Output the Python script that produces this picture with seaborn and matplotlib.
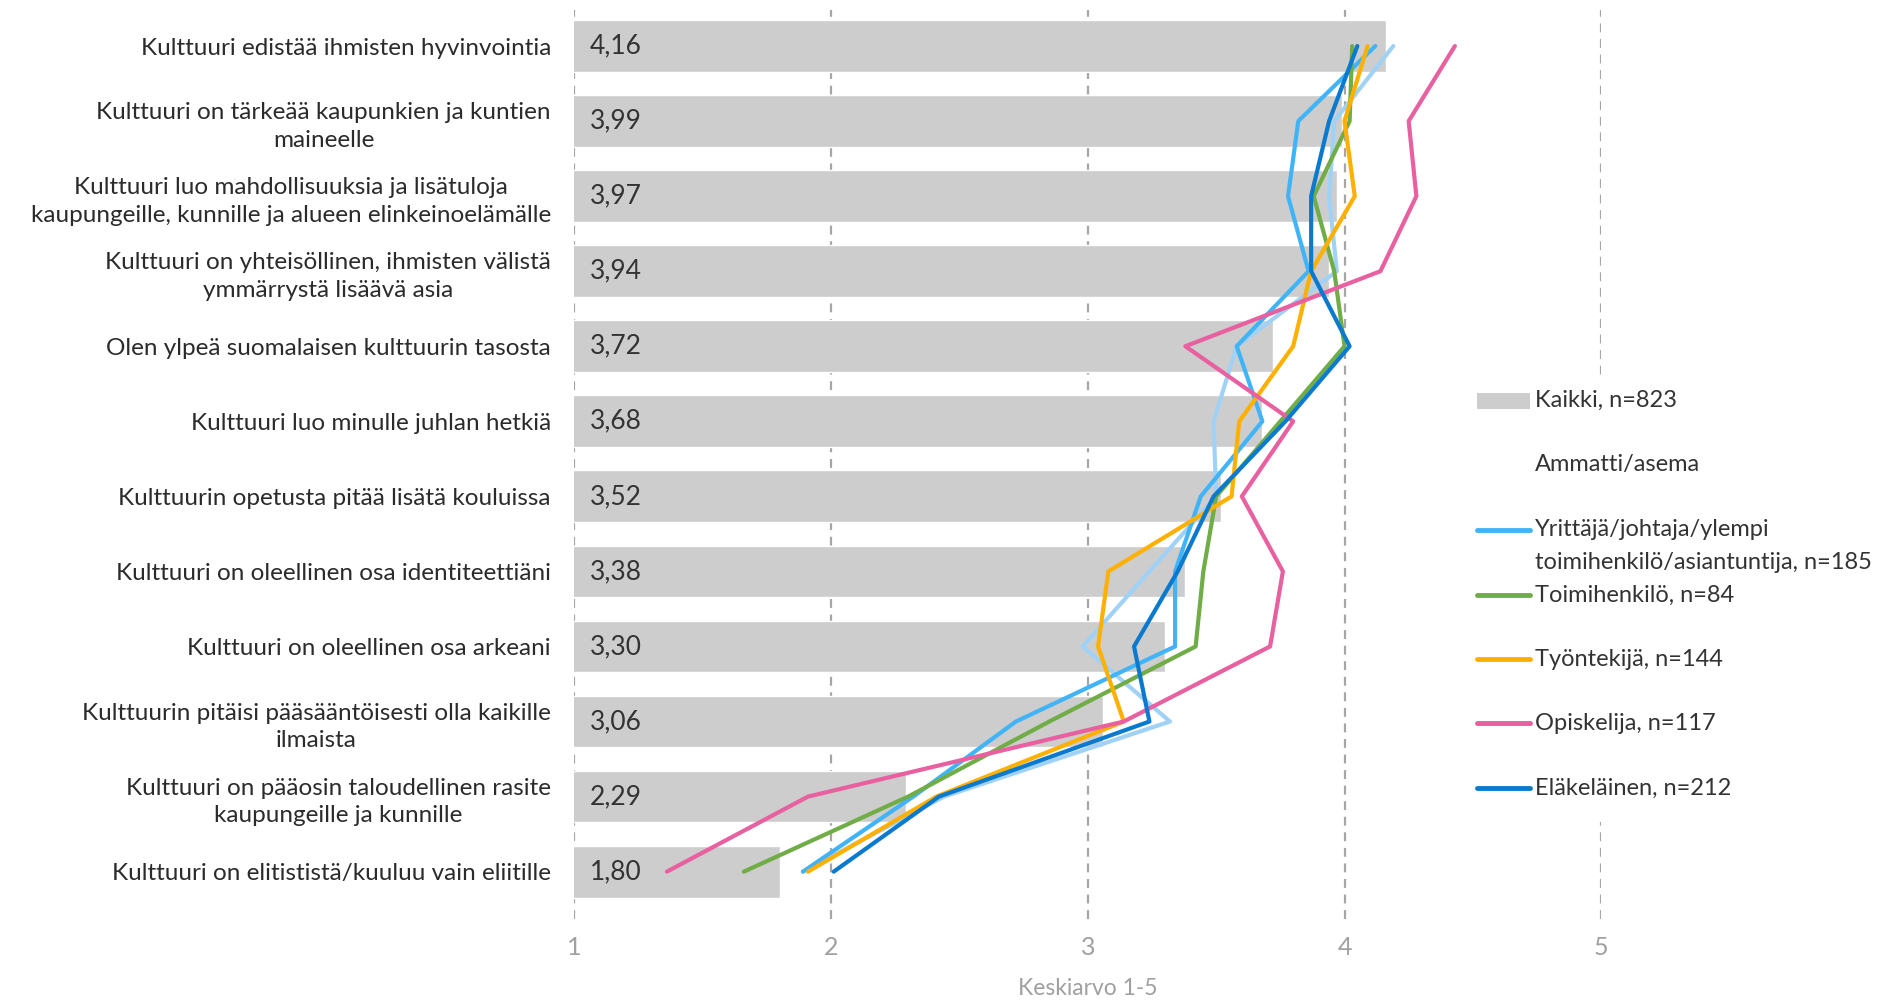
import matplotlib
matplotlib.use('Agg')
import matplotlib.pyplot as plt
from matplotlib.lines import Line2D
from matplotlib.patches import Rectangle
import seaborn as sns
import pandas as pd

# väittämät (ylhäältä alas)
categories = [
    'Kulttuuri edistää ihmisten hyvinvointia',
    'Kulttuuri on tärkeää kaupunkien ja kuntien\nmaineelle',
    'Kulttuuri luo mahdollisuuksia ja lisätuloja\nkaupungeille, kunnille ja alueen elinkeinoelämälle',
    'Kulttuuri on yhteisöllinen, ihmisten välistä\nymmärrystä lisäävä asia',
    'Olen ylpeä suomalaisen kulttuurin tasosta',
    'Kulttuuri luo minulle juhlan hetkiä',
    'Kulttuurin opetusta pitää lisätä kouluissa',
    'Kulttuuri on oleellinen osa identiteettiäni',
    'Kulttuuri on oleellinen osa arkeani',
    'Kulttuurin pitäisi pääsääntöisesti olla kaikille\nilmaista',
    'Kulttuuri on pääosin taloudellinen rasite\nkaupungeille ja kunnille',
    'Kulttuuri on elitististä/kuuluu vain eliitille',
]
positions = list(range(len(categories)))

kaikki = [4.16, 3.99, 3.97, 3.94, 3.72, 3.68, 3.52, 3.38, 3.30, 3.06, 2.29, 1.80]

yrittaja = [4.12, 3.82, 3.78, 3.86, 3.58, 3.68, 3.44, 3.34, 3.34, 2.72, 2.32, 1.89]
toimihenkilo = [4.03, 4.02, 3.88, 3.96, 4.00, 3.75, 3.50, 3.45, 3.42, 2.85, 2.30, 1.66]
tyontekija = [4.09, 4.00, 4.04, 3.87, 3.80, 3.59, 3.56, 3.08, 3.04, 3.14, 2.41, 1.91]
opiskelija = [4.43, 4.25, 4.28, 4.14, 3.38, 3.80, 3.60, 3.76, 3.71, 3.14, 1.91, 1.36]
elakelainen = [4.05, 3.94, 3.87, 3.87, 4.02, 3.77, 3.49, 3.35, 3.18, 3.24, 2.42, 2.01]
muu = [4.19, 3.96, 3.94, 3.97, 3.58, 3.49, 3.50, 3.24, 2.98, 3.32, 2.44, 1.89]

series_labels = [
    'Yrittäjä/johtaja/ylempi\ntoimihenkilö/asiantuntija, n=185',
    'Toimihenkilö, n=84',
    'Työntekijä, n=144',
    'Opiskelija, n=117',
    'Eläkeläinen, n=212',
]
series_values = [yrittaja, toimihenkilo, tyontekija, opiskelija, elakelainen]
series_colors = ['#41B4F7', '#70AD47', '#FFB000', '#E8609F', '#0A7ACF']

W, H = 1896, 1001

sns.set_theme(style='white')
plt.rcParams['font.family'] = ['Lato', 'DejaVu Sans']

fig = plt.figure(figsize=(W / 100, H / 100), dpi=100)
ax = fig.add_axes([0.303, 0.082, 0.5415, 0.908])

df_bars = pd.DataFrame({'pos': positions, 'value': kaikki})
sns.barplot(data=df_bars, x='value', y='pos', orient='h', color='#CDCDCD',
            saturation=1, width=0.69, ax=ax)

# vaalea sininen sarja ilman selitettä
sns.lineplot(x=muu, y=positions, sort=False, estimator=None, color='#A0D2F7',
             linewidth=3, ax=ax)
for vals, col in zip(series_values, series_colors):
    sns.lineplot(x=vals, y=positions, sort=False, estimator=None, color=col,
                 linewidth=3, ax=ax)

for pos, v in zip(positions, kaikki):
    ax.text(1.06, pos, f'{v:.2f}'.replace('.', ','), va='center', ha='left',
            fontsize=19, color='#333333')

ax.set_xlim(1, 5)
ax.set_ylim(11.63, -0.48)
ax.set_xticks([1, 2, 3, 4, 5])
ax.set_xticklabels(['1', '2', '3', '4', '5'], fontsize=18, color='#A0A0A0')
ax.set_yticks(positions)
ax.set_yticklabels(categories, fontsize=17.5, color='#2B2B2B',
                   multialignment='center', linespacing=1.4)
ax.tick_params(axis='both', length=0)
ax.tick_params(axis='y', pad=17)
ax.tick_params(axis='x', pad=12)
ax.set_xlabel('Keskiarvo 1-5', fontsize=16.5, color='#A0A0A0', labelpad=14)
ax.set_ylabel('')
ax.set_axisbelow(True)
ax.grid(axis='x', color='#A6A6A6', linestyle=(0, (4, 3)), linewidth=1.6)
ax.grid(axis='y', visible=False)
for s in ax.spines.values():
    s.set_visible(False)
if ax.get_legend() is not None:
    ax.get_legend().remove()

# selite käsin (Excel-tyyli)
def fx(px):
    return px / W

def fy(py):
    return 1 - py / H

fig.add_artist(Rectangle((fx(1470), fy(822)), fx(W) - fx(1470), fy(377) - fy(822),
                         transform=fig.transFigure, facecolor='white',
                         edgecolor='none', zorder=2))
fig.add_artist(Rectangle((fx(1477), fy(409)), fx(1530) - fx(1477), fy(393) - fy(409),
                         transform=fig.transFigure, facecolor='#CDCDCD',
                         edgecolor='none', zorder=3))
fig.text(fx(1535), fy(400), 'Kaikki, n=823', fontsize=17, color='#333333',
         va='center', ha='left', zorder=3)
fig.text(fx(1535), fy(464), 'Ammatti/asema', fontsize=17, color='#333333',
         va='center', ha='left', zorder=3)

legend_y = [530, 595, 659, 723, 788]
label_lines = [lab.split('\n') for lab in series_labels]
for ypx, lines, col in zip(legend_y, label_lines, series_colors):
    fig.add_artist(Line2D([fx(1477), fx(1530)], [fy(ypx), fy(ypx)],
                          transform=fig.transFigure, color=col, linewidth=3.5,
                          solid_capstyle='round', zorder=3))
    for k, line in enumerate(lines):
        fig.text(fx(1535), fy(ypx + 32.5 * k), line, fontsize=17,
                 color='#333333', va='center', ha='left', zorder=3)

fig.savefig('out.png', dpi=100)
